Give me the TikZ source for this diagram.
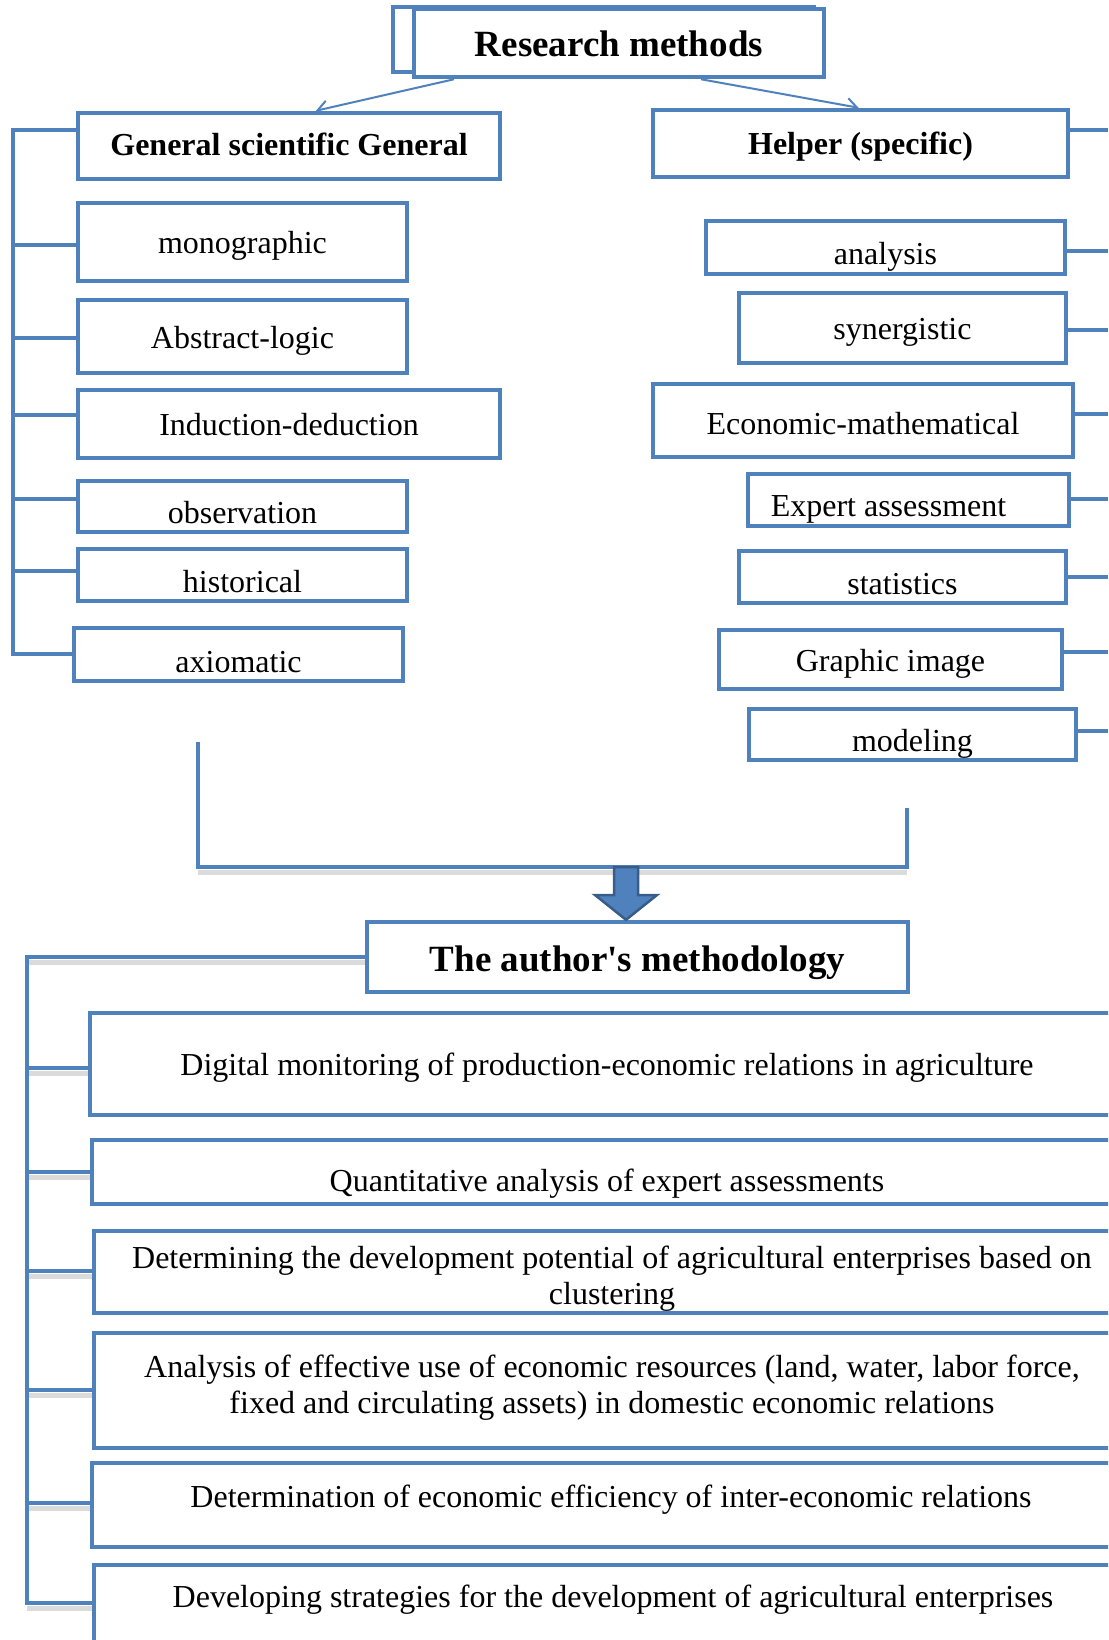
\documentclass[tikz,border=0pt]{standalone}
\usepackage{fontspec}
\setmainfont{Liberation Serif}
\usetikzlibrary{arrows.meta,calc}
\definecolor{mblue}{RGB}{79,129,189}
\definecolor{mdark}{RGB}{56,93,138}
\newcommand\txtshift[2]{\raisebox{#1}[\height][\depth]{#2}}
\pgfdeclarelayer{bg}
\pgfsetlayers{bg,main}
\begin{document}
\begin{tikzpicture}[x=1pt,y=-1pt,
  bx/.style={draw=mblue, line width=4.5pt, fill=white, inner sep=0pt, font=\fontsize{32}{36}\selectfont, text height=30pt, text depth=7pt},
  multi/.style={text height={}, text depth={}},
  hd/.style={bx, font=\fontsize{32}{36}\selectfont\bfseries},
  big/.style={bx, font=\fontsize{37}{42}\selectfont\bfseries, text height=34.8pt, text depth=8.1pt},
  conn/.style={draw=mblue, line width=4.5pt},
  shd/.style={draw=black!14, line width=5pt},
  thinarr/.style={draw=mblue, line width=2pt, -{Straight Barb[length=10pt,width=15pt]}},
  blockarrow/.style={fill=mblue, draw=mdark, line width=2.5pt, line join=miter}]
\useasboundingbox (0,0) rectangle (1108,1640);

% ---- top
\node[bx, minimum width=421pt, minimum height=65pt] (rmback) at (603.5,39.5) {};
\node[big, minimum width=410pt, minimum height=68pt] (rm) at (619,43) {Research methods};
\node[hd, minimum width=422pt, minimum height=66pt] (gen) at (289,146) {\txtshift{2pt}{General scientific General}};
\node[hd, minimum width=415pt, minimum height=67pt] (help) at (860.5,143.5) {Helper (specific)};

% ---- left column
\node[bx, minimum width=329pt, minimum height=78pt] (mono) at (242.5,242) {monographic};
\node[bx, minimum width=329pt, minimum height=73pt] (abs) at (242.5,336.5) {Abstract-logic};
\node[bx, minimum width=422pt, minimum height=68pt] (ind) at (289,424) {Induction-deduction};
\node[bx, minimum width=329pt, minimum height=51pt] (obs) at (242.5,506.5) {\txtshift{-5pt}{observation}};
\node[bx, minimum width=329pt, minimum height=52pt] (hist) at (242.5,575) {\txtshift{-6pt}{historical}};
\node[bx, minimum width=329pt, minimum height=53pt] (axi) at (238.5,654.5) {\txtshift{-6pt}{axiomatic}};

% ---- right column
\node[bx, minimum width=359pt, minimum height=53pt] (ana) at (885.5,247.5) {\txtshift{-5pt}{analysis}};
\node[bx, minimum width=327pt, minimum height=70pt] (syn) at (902.5,328) {synergistic};
\node[bx, minimum width=420pt, minimum height=73pt] (eco) at (863,420.5) {\txtshift{-2pt}{Economic-mathematical}};
\node[bx, minimum width=321pt, minimum height=52pt] (exp) at (908.5,500) {\txtshift{-5pt}{\kern-40pt Expert assessment}};
\node[bx, minimum width=327pt, minimum height=52pt] (sta) at (902.5,577) {\txtshift{-6pt}{statistics}};
\node[bx, minimum width=343pt, minimum height=59pt] (gra) at (890.5,659.5) {Graphic image};
\node[bx, minimum width=327pt, minimum height=51pt] (mod) at (912.5,734.5) {\txtshift{-5pt}{modeling}};

% ---- author's methodology
\node[big, minimum width=541pt, minimum height=70pt] (auth) at (637.5,957) {\txtshift{-1pt}{The author\textquotesingle s methodology}};

\begin{scope}
\clip (0,0) rectangle (1108,1640);
\node[bx, minimum width=1034pt, minimum height=102pt] (m1) at (607,1064) {Digital monitoring of production-economic relations in agriculture};
\node[bx, minimum width=1030pt, minimum height=64pt] (m2) at (607,1172) {\txtshift{-8pt}{Quantitative analysis of expert assessments}};
\node[bx, multi, minimum width=1036pt, minimum height=82pt] (m3) at (612,1272) {\txtshift{-7pt}{\begin{tabular}{@{}c@{}}Determining the development potential of agricultural enterprises based on\\ clustering\end{tabular}}};
\node[bx, multi, minimum width=1036pt, minimum height=115pt] (m4) at (612,1390.5) {\txtshift{2pt}{\begin{tabular}{@{}c@{}}Analysis of effective use of economic resources (land, water, labor force,\\ fixed and circulating assets) in domestic economic relations\end{tabular}}};
\node[bx, minimum width=1038pt, minimum height=84pt] (m5) at (611,1505) {\txtshift{9pt}{Determination of economic efficiency of inter-economic relations}};
\node[bx, minimum width=1038pt, minimum height=95pt] (m6) at (613,1612.5) {\txtshift{17pt}{Developing strategies for the development of agricultural enterprises}};
\end{scope}

% ---- coordinates
\coordinate (lg) at (13,130);
\coordinate (l1) at (13,245);
\coordinate (l2) at (13,338);
\coordinate (l3) at (13,415);
\coordinate (l4) at (13,499);
\coordinate (l5) at (13,571);
\coordinate (l6) at (13,654);
\coordinate (rg) at (1108,130);
\coordinate (r1) at (1108,251);
\coordinate (r2) at (1108,330);
\coordinate (r3) at (1108,414);
\coordinate (r4) at (1108,499);
\coordinate (r5) at (1108,577);
\coordinate (r6) at (1108,652);
\coordinate (r7) at (1108,731);
\coordinate (bl) at (198,742);
\coordinate (blc) at (198,867);
\coordinate (brc) at (907,867);
\coordinate (br) at (907,808);
\coordinate (atop) at (626,867);
\coordinate (a1) at (27,1068);
\coordinate (a2) at (27,1172);
\coordinate (a3) at (27,1271);
\coordinate (a4) at (27,1390);
\coordinate (a5) at (27,1503);
\coordinate (a6) at (27,1603);

\begin{pgfonlayer}{bg}
% thin arrows
\draw[thinarr] ([xshift=-165pt]rm.south) -- ([xshift=27pt]gen.north);
\draw[thinarr] ([xshift=82pt]rm.south) -- ([xshift=-2pt]help.north);
% left tree
\draw[conn, line join=miter] (lg -| gen.west) -- (lg) -- (l6) -- (l6 -| axi.west);
\draw[conn] (l1) -- (l1 -| mono.west);
\draw[conn] (l2) -- (l2 -| abs.west);
\draw[conn] (l3) -- (l3 -| ind.west);
\draw[conn] (l4) -- (l4 -| obs.west);
\draw[conn] (l5) -- (l5 -| hist.west);
% right branches
\draw[conn] (rg -| help.east) -- (rg);
\draw[conn] (r1 -| ana.east) -- (r1);
\draw[conn] (r2 -| syn.east) -- (r2);
\draw[conn] (r3 -| eco.east) -- (r3);
\draw[conn] (r4 -| exp.east) -- (r4);
\draw[conn] (r5 -| sta.east) -- (r5);
\draw[conn] (r6 -| gra.east) -- (r6);
\draw[conn] (r7 -| mod.east) -- (r7);
% shadows
\draw[shd] ([yshift=-5pt]blc) -- ([yshift=-5pt]brc);
\draw[shd] ([yshift=-5pt]auth.west) -- ([yshift=-5pt]auth.west -| a6);
\draw[shd] ([yshift=-5pt]a1) -- ([yshift=-5pt]a1 -| m1.west);
\draw[shd] ([yshift=-5pt]a2) -- ([yshift=-5pt]a2 -| m2.west);
\draw[shd] ([yshift=-5pt]a3) -- ([yshift=-5pt]a3 -| m3.west);
\draw[shd] ([yshift=-5pt]a4) -- ([yshift=-5pt]a4 -| m4.west);
\draw[shd] ([yshift=-5pt]a5) -- ([yshift=-5pt]a5 -| m5.west);
\draw[shd] ([yshift=-5pt]a6) -- ([yshift=-5pt]a6 -| m6.west);
% author tree
\draw[conn, line join=miter] (auth.west) -- (auth.west -| a6) -- (a6) -- (a6 -| m6.west);
\draw[conn] (a1) -- (a1 -| m1.west);
\draw[conn] (a2) -- (a2 -| m2.west);
\draw[conn] (a3) -- (a3 -| m3.west);
\draw[conn] (a4) -- (a4 -| m4.west);
\draw[conn] (a5) -- (a5 -| m5.west);
\end{pgfonlayer}

% bracket and block arrow
\draw[conn, line join=miter] (bl) -- (blc) -- (brc) -- (br);
\draw[blockarrow] ($(atop)+(-12,0)$) -- ($(atop)+(12,0)$) -- ($(atop)+(12,28)$) -- ($(atop)+(31,28)$) -- (atop |- auth.north) -- ($(atop)+(-31,28)$) -- ($(atop)+(-12,28)$) -- cycle;
\end{tikzpicture}
\end{document}
